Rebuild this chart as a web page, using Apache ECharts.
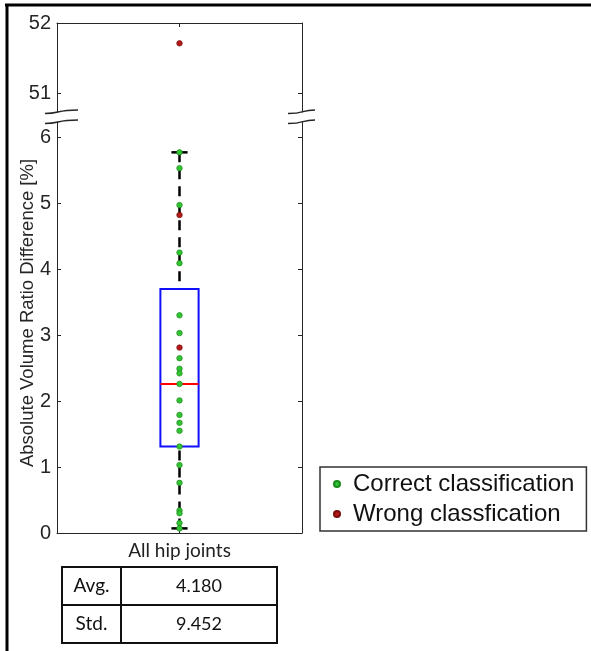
<!DOCTYPE html>
<html>
<head>
<meta charset="utf-8">
<script src="https://cdn.jsdelivr.net/npm/echarts@6/dist/echarts.min.js"></script>
<style>
  html, body { margin: 0; padding: 0; background: #fff; }
  #chart { width: 591px; height: 651px; }
</style>
</head>
<body>
<div id="chart"></div>
<script>
// data
const category = ['All hip joints']
const correctValues = [5.77, 5.53, 4.97, 4.25, 4.09, 3.30, 3.03, 2.65, 2.49, 2.42, 2.26, 2.01,
  1.79, 1.67, 1.55, 1.31, 1.03, 0.76, 0.34, 0.30, 0.15, 0.07]
const wrongValues = [51.71, 4.82, 2.81]
// lower whisker, Q1, median, Q3, upper whisker
const boxStats = [0.07, 1.31, 2.26, 3.70, 5.77]
const upperTicks = [51, 52]
const lowerTicks = [0, 1, 2, 3, 4, 5, 6]
const upperRange = [50.73, 52]
const lowerRange = [0, 6.23]
const statLabels = ['Avg.', 'Std.']
const statValues = ['4.180', '9.452']

const axisColor = '#262626'
const tickFont = 'Liberation Sans, Arial, sans-serif'
const gridLeft = 57, gridRight = 302
const upperTop = 23, upperBottom = 112, lowerTop = 122, lowerBottom = 533

const chart = echarts.init(document.getElementById('chart'))

const xAxisBase = {
  type: 'category',
  data: category,
  boundaryGap: true,
  axisLine: { show: true, onZero: false, lineStyle: { color: axisColor, width: 1 } },
  axisTick: { show: true, inside: true, alignWithLabel: true, length: 4, lineStyle: { color: axisColor } },
  splitLine: { show: false }
}

const yAxisBase = (grid, pos, range, ticks, showLabel) => ({
  type: 'value',
  gridIndex: grid,
  position: pos,
  min: range[0],
  max: range[1],
  axisLine: { show: true, onZero: false, lineStyle: { color: axisColor, width: 1 } },
  axisTick: { show: true, inside: true, length: 4, customValues: ticks, lineStyle: { color: axisColor } },
  axisLabel: {
    show: showLabel, customValues: ticks, fontSize: 20, fontFamily: tickFont,
    color: axisColor, margin: 6
  },
  splitLine: { show: false }
})

const upperWrong = wrongValues.filter(v => v > upperRange[0])
const lowerWrong = wrongValues.filter(v => v <= lowerRange[1])

const greenStyle = { color: '#33c433', borderColor: '#1a8a1a', borderWidth: 0.7, opacity: 1 }
const redStyle = { color: '#b51a1a', borderColor: '#7a0c0c', borderWidth: 0.7, opacity: 1 }

// break marks on both frame sides
const breakMarks = []
;[[gridLeft, -12, 21], [gridRight, -14, 13]].forEach(([xa, l, r]) => {
  ;[upperBottom, lowerTop].forEach(y => {
    breakMarks.push({
      type: 'bezierCurve',
      shape: { x1: xa + l, y1: y + 1.5, cpx1: xa + 3, cpy1: y + 1.5, cpx2: xa - 1, cpy2: y - 2, x2: xa + r, y2: y - 2 },
      style: { stroke: axisColor, lineWidth: 1.5, fill: null },
      z: 10
    })
  })
})

// small stats table under the axis
const tableX = [62, 121, 277], tableTop = 567, rowH = 38
const tableItems = []
statLabels.forEach((lab, i) => {
  const y = tableTop + i * rowH
  tableItems.push(
    { type: 'rect', shape: { x: tableX[0], y, width: tableX[1] - tableX[0], height: rowH },
      style: { fill: null, stroke: '#111', lineWidth: 2 } },
    { type: 'rect', shape: { x: tableX[1], y, width: tableX[2] - tableX[1], height: rowH },
      style: { fill: null, stroke: '#111', lineWidth: 2 } },
    { type: 'text', x: (tableX[0] + tableX[1]) / 2, y: y + rowH / 2,
      style: { text: lab, font: '19px Lato, sans-serif', fill: '#111', align: 'center', verticalAlign: 'middle' } },
    { type: 'text', x: (tableX[1] + tableX[2]) / 2, y: y + rowH / 2,
      style: { text: statValues[i], font: '18px Lato, sans-serif', fill: '#111', align: 'center', verticalAlign: 'middle' } }
  )
})

const option = {
  animation: false,
  backgroundColor: '#fff',
  grid: [
    { left: gridLeft, right: 591 - gridRight, top: upperTop, height: upperBottom - upperTop },
    { left: gridLeft, right: 591 - gridRight, top: lowerTop, height: lowerBottom - lowerTop }
  ],
  xAxis: [
    { ...xAxisBase, gridIndex: 0, position: 'top', axisLabel: { show: false } },
    { ...xAxisBase, gridIndex: 1, position: 'bottom',
      axisLabel: { show: true, fontSize: 19, fontFamily: 'Lato, sans-serif', color: '#222', margin: 8 } }
  ],
  yAxis: [
    yAxisBase(0, 'left', upperRange, upperTicks, true),
    yAxisBase(0, 'right', upperRange, upperTicks, false),
    yAxisBase(1, 'left', lowerRange, lowerTicks, true),
    yAxisBase(1, 'right', lowerRange, lowerTicks, false)
  ],
  legend: {
    orient: 'vertical',
    left: 320,
    top: 467,
    data: ['Correct classification', 'Wrong classfication'],
    icon: 'circle',
    itemWidth: 6,
    itemHeight: 6,
    itemGap: 6,
    padding: [5, 12, 5, 13],
    borderColor: '#333',
    borderWidth: 1.5,
    backgroundColor: '#fff',
    textStyle: { fontSize: 24, fontFamily: tickFont, color: '#111', padding: [0, 0, 0, 8] }
  },
  series: [
    {
      type: 'custom',
      xAxisIndex: 1,
      yAxisIndex: 2,
      z: 2,
      data: [[0, ...boxStats]],
      renderItem: (params, api) => {
        const bw = api.size([1, 0])[0]
        const cx = api.coord([0, 0])[0]
        const py = i => api.coord([0, api.value(i)])[1]
        const lo = py(1), q1 = py(2), med = py(3), q3 = py(4), hi = py(5)
        const half = bw * 0.078, cap = bw * 0.033
        const dash = { stroke: '#000', lineWidth: 2.5, lineDash: [10, 7] }
        const solid = { stroke: '#000', lineWidth: 2.5 }
        return {
          type: 'group',
          children: [
            { type: 'line', shape: { x1: cx, y1: hi, x2: cx, y2: q3 }, style: dash },
            { type: 'line', shape: { x1: cx, y1: lo, x2: cx, y2: q1 }, style: dash },
            { type: 'line', shape: { x1: cx - cap, y1: hi, x2: cx + cap, y2: hi }, style: solid },
            { type: 'line', shape: { x1: cx - cap, y1: lo, x2: cx + cap, y2: lo }, style: solid },
            { type: 'rect', shape: { x: cx - half, y: q3, width: 2 * half, height: q1 - q3 },
              style: { fill: null, stroke: '#1010ff', lineWidth: 2 } },
            { type: 'line', shape: { x1: cx - half, y1: med, x2: cx + half, y2: med },
              style: { stroke: '#ff0000', lineWidth: 2 } }
          ]
        }
      }
    },
    {
      name: 'Correct classification',
      type: 'scatter',
      xAxisIndex: 1,
      yAxisIndex: 2,
      z: 5,
      symbolSize: 5.5,
      itemStyle: greenStyle,
      data: correctValues.map(v => [0, v])
    },
    {
      name: 'Wrong classfication',
      type: 'scatter',
      xAxisIndex: 1,
      yAxisIndex: 2,
      z: 5,
      symbolSize: 5.5,
      itemStyle: redStyle,
      data: lowerWrong.map(v => [0, v])
    },
    {
      name: 'Wrong classfication',
      type: 'scatter',
      xAxisIndex: 0,
      yAxisIndex: 0,
      z: 5,
      symbolSize: 5.5,
      itemStyle: redStyle,
      data: upperWrong.map(v => [0, v])
    }
  ],
  graphic: [
    // outer frame of the figure (top and left edges)
    { type: 'line', shape: { x1: 5, y1: 5, x2: 591, y2: 5 }, style: { stroke: '#000', lineWidth: 3 } },
    { type: 'line', shape: { x1: 7, y1: 4, x2: 7, y2: 651 }, style: { stroke: '#000', lineWidth: 3 } },
    {
      type: 'text',
      x: 28,
      y: 313,
      rotation: Math.PI / 2,
      style: {
        text: 'Absolute Volume Ratio Difference [%]',
        font: '18.5px Liberation Sans, Arial, sans-serif',
        fill: axisColor,
        align: 'center',
        verticalAlign: 'middle'
      }
    },
    ...breakMarks,
    ...tableItems
  ]
}

chart.setOption(option)
</script>
</body>
</html>
